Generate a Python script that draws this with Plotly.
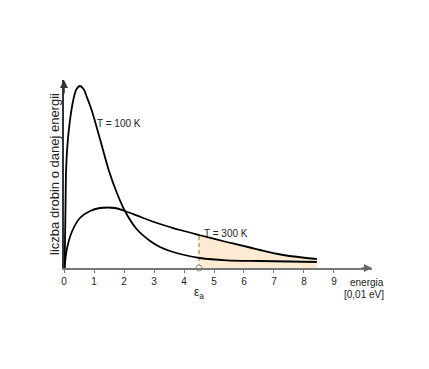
import plotly.graph_objects as go

# Energy in units of 0.01 eV; y in arbitrary units (relative number of molecules)
e_100 = [0.02, 0.05, 0.07, 0.11, 0.2, 0.31, 0.42, 0.53, 0.65, 0.76, 0.92, 1.2, 1.5, 1.75, 2.03, 2.42, 2.87, 3.2, 3.53, 3.87, 4.53, 5.42, 6.5, 7.5, 8.43]
n_100 = [0, 60, 98, 121, 148, 168, 179, 182, 179, 171, 158, 129, 97, 76, 57, 39, 27, 21, 17, 14, 10, 7.7, 7, 6.5, 6]

e_300 = [0.02, 0.09, 0.26, 0.53, 0.87, 1.2, 1.45, 1.7, 2.03, 2.64, 3.2, 3.53, 3.87, 4.5, 5.42, 6.2, 6.53, 7.31, 8.43]
n_300 = [0, 18, 36, 50, 57, 60, 60.5, 60, 57, 50, 44, 41, 38, 33, 26, 20.5, 18, 13, 9]

eps_a = 4.5
x_ticks = [0, 1, 2, 3, 4, 5, 6, 7, 8, 9]
x_max = 10.267
y_max = 188

FONT = "Liberation Sans, Arial, sans-serif"

fill_x = [e for e in e_300 if e >= eps_a]
fill_y = [n for e, n in zip(e_300, n_300) if e >= eps_a]
n_at_eps = n_300[e_300.index(eps_a)]

fig = go.Figure()
fig.add_trace(go.Scatter(x=fill_x, y=fill_y, mode="lines", line=dict(width=0, shape="spline"),
                         fill="tozeroy", fillcolor="#fcebd2", hoverinfo="skip", showlegend=False))
fig.add_trace(go.Scatter(x=[eps_a, eps_a], y=[0, n_at_eps], mode="lines",
                         line=dict(color="#b08c60", width=1.3, dash="4px,3px"), showlegend=False))
fig.add_trace(go.Scatter(x=e_300, y=n_300, mode="lines", line=dict(color="black", width=1.8, shape="spline"),
                         showlegend=False))
fig.add_trace(go.Scatter(x=e_100, y=n_100, mode="lines", line=dict(color="black", width=1.8, shape="spline"),
                         showlegend=False))
fig.add_trace(go.Scatter(x=[eps_a], y=[0], mode="markers", cliponaxis=False,
                         marker=dict(size=6, color="white", line=dict(color="#a08a70", width=1)),
                         showlegend=False))

ann = [
    dict(x=x_max, y=0, ax=x_max - 0.4, ay=0, axref="x", ayref="y", xref="x", yref="y", text="",
         showarrow=True, arrowhead=2, arrowsize=1, arrowwidth=1.6, arrowcolor="#666", standoff=0),
    dict(x=0, y=y_max, ax=0, ay=y_max - 15, axref="x", ayref="y", xref="x", yref="y", text="",
         showarrow=True, arrowhead=2, arrowsize=1, arrowwidth=1.6, arrowcolor="#333", standoff=0),
    dict(x=1.83, y=145, text="T = 100 K", showarrow=False, font=dict(family=FONT, size=10, color="#222")),
    dict(x=5.4, y=35, text="T = 300 K", showarrow=False, font=dict(family=FONT, size=10, color="#222")),
    dict(x=10.1, y=0, yshift=-14, text="energia", showarrow=False, font=dict(family=FONT, size=10, color="#222")),
    dict(x=10.0, y=0, yshift=-26, text="[0,01 eV]", showarrow=False, font=dict(family=FONT, size=10, color="#222")),
    dict(x=4.5, y=0, yshift=-25, text="ε<sub>a</sub>", showarrow=False, font=dict(family=FONT, size=12, color="#222")),
]

fig.update_layout(
    width=421, height=361,
    margin=dict(l=56, r=57, t=72, b=101),
    paper_bgcolor="white", plot_bgcolor="white",
    annotations=ann,
    xaxis=dict(range=[0, x_max], tickvals=x_ticks, ticktext=[str(t) for t in x_ticks],
               automargin=False,
               showgrid=False, zeroline=False, showline=True, linecolor="#777", linewidth=2,
               ticks="outside", ticklen=3, tickcolor="#777", ticklabelstandoff=0,
               tickfont=dict(family=FONT, size=10, color="#222")),
    yaxis=dict(range=[0, y_max], automargin=False, showgrid=False, zeroline=False, showline=True,
               linecolor="#333", linewidth=1.6, showticklabels=False, ticks="",
               title=dict(text="liczba drobin o danej energii", standoff=0,
                          font=dict(family=FONT, size=13, color="#222"))),
)

fig.write_html("out.html")
